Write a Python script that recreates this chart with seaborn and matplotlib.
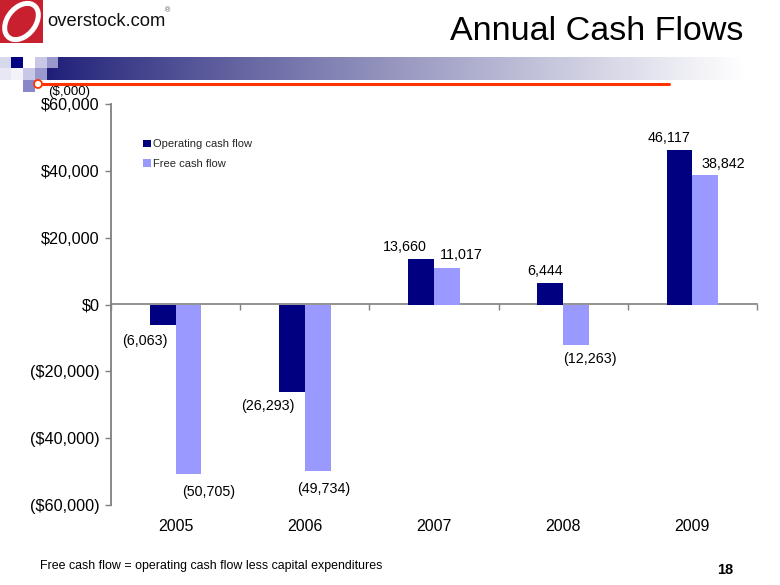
import numpy as np
import pandas as pd
import matplotlib
matplotlib.use("Agg")
import matplotlib.pyplot as plt
import seaborn as sns
from matplotlib.patches import Rectangle, Ellipse
from matplotlib.lines import Line2D

# ---------------- data ----------------
years = ["2005", "2006", "2007", "2008", "2009"]
series = ["Operating cash flow", "Free cash flow"]
operating = [-6063, -26293, 13660, 6444, 46117]
free_cf = [-50705, -49734, 11017, -12263, 38842]
yticks = [-60000, -40000, -20000, 0, 20000, 40000, 60000]
ytick_labels = ["($60,000)", "($40,000)", "($20,000)", "$0", "$20,000", "$40,000", "$60,000"]
title = "Annual Cash Flows"
unit_label = "($,000)"
footnote = "Free cash flow = operating cash flow less capital expenditures"
page_no = "18"
colors = ["#000080", "#9999FF"]

df = pd.DataFrame({
    "year": years * 2,
    "series": [series[0]] * len(years) + [series[1]] * len(years),
    "value": operating + free_cf,
})

W, H = 780, 585
sns.set_theme(style="white")
plt.rcParams["font.family"] = ["Liberation Sans", "DejaVu Sans"]

fig = plt.figure(figsize=(W / 100, H / 100), dpi=100)
fig.patch.set_facecolor("white")


def fx(x):
    return x / W


def fy(y):
    return 1 - y / H


def rect(x0, y0, x1, y1, color, z=1):
    fig.add_artist(Rectangle((fx(x0), fy(y1)), fx(x1) - fx(x0), fy(y0) - fy(y1),
                             transform=fig.transFigure, facecolor=color,
                             edgecolor="none", zorder=z))


# ---------------- header decoration ----------------
band = fig.add_axes([fx(47), fy(80), fx(780) - fx(47), fy(57) - fy(80)])
grad = np.linspace(0, 1, 256)
c0 = np.array([0.12, 0.12, 0.47])
c1 = np.array([1.0, 1.0, 1.0])
t = np.clip(grad * 1.05, 0, 1) ** 0.9
img = (c0[None, :] * (1 - t[:, None]) + c1[None, :] * t[:, None])[None, :, :]
band.imshow(img, aspect="auto", extent=[0, 1, 0, 1])
band.set_axis_off()

# squares
rect(0, 57, 11, 68, "#d8d8ec", 3)
rect(0, 68, 11, 80, "#e8e8f4", 3)
rect(11, 57, 23, 68, "#000080", 3)
rect(11, 68, 23, 80, "#f2f2f8", 3)
rect(23, 57, 35, 68, "#ffffff", 3)
rect(23, 68, 35, 80, "#c8c8e6", 3)
rect(35, 57, 47, 68, "#c8c8e6", 3)
rect(35, 68, 47, 80, "#9999cc", 3)
rect(47, 57, 58, 68, "#9999cc", 3)
rect(23, 80, 35, 92, "#8888c8", 3)

# red rule with circle
fig.add_artist(Line2D([fx(38), fx(669)], [fy(84), fy(84)], transform=fig.transFigure,
                      color="#ff3300", lw=2.2, zorder=4))
fig.add_artist(Ellipse((fx(38), fy(84)), 8 / W, 8 / H, transform=fig.transFigure,
                       facecolor="white", edgecolor="#ff3300", lw=1.3, zorder=5))

# logo
rect(0, 0, 43, 43, "#c8202f", 3)
fig.add_artist(Ellipse((fx(21.5), fy(21.5)), 30 / W, 38 / H, angle=-22,
                       transform=fig.transFigure, facecolor="none",
                       edgecolor="white", lw=3.6, zorder=4))
fig.text(fx(47), fy(21), "overstock.com", fontsize=13.2, color="#111111",
         ha="left", va="center")
fig.text(fx(165), fy(11), "®", fontsize=5, color="#555555", ha="left", va="center")

# title
fig.text(fx(743), fy(31), title, fontsize=24.5, color="black", ha="right", va="center")

# ---------------- chart ----------------
ax = fig.add_axes([fx(111), fy(505), fx(757) - fx(111), fy(104) - fy(505)])
sns.barplot(data=df, x="year", y="value", hue="series", hue_order=series,
            palette=colors, width=0.4, linewidth=0, saturation=1, ax=ax,
            errorbar=None)

ax.set_xlim(-0.5, len(years) - 0.5)
ax.set_ylim(-60000, 60000)
ax.set_yticks(yticks)
ax.set_yticklabels(ytick_labels)
ax.set_xlabel("")
ax.set_ylabel("")
for s in ["top", "right", "bottom"]:
    ax.spines[s].set_visible(False)
ax.spines["left"].set_color("#808080")
ax.spines["left"].set_linewidth(1.3)
ax.tick_params(axis="y", direction="out", length=4, width=1, color="#808080",
               labelsize=11.7, labelcolor="black", pad=4, left=True)
ax.tick_params(axis="x", length=0, labelsize=11.5, labelcolor="black", pad=10)
ax.set_facecolor("white")

# zero line with category boundary ticks
sec = ax.secondary_xaxis(0.5)
sec.set_xticks(np.arange(len(years) + 1) - 0.5)
sec.set_xticklabels([])
sec.tick_params(direction="in", length=4, width=1, color="#808080")
for s in sec.spines.values():
    s.set_color("#808080")
    s.set_linewidth(1.2)

# data labels
op_off = [(-18, 16), (-24, 14), (-16, -12), (-5, -12), (-10, -12)]
fcf_off = [(20, 18), (6, 18), (14, -13), (14, 14), (18, -11)]


def fmt(v):
    return f"({abs(v):,})" if v < 0 else f"{v:,}"


for cont, vals, offs in zip(ax.containers, [operating, free_cf], [op_off, fcf_off]):
    for bar, v, (dx, dy) in zip(cont, vals, offs):
        cx = bar.get_x() + bar.get_width() / 2
        ax.annotate(fmt(v), xy=(cx, v), xytext=(dx, -dy), textcoords="offset pixels",
                    ha="center", va="center", fontsize=10.3, color="black")

# legend
handles, labels = ax.get_legend_handles_labels()
ax.legend(handles, labels, loc="upper left", bbox_to_anchor=(0.05, 0.912),
          frameon=False, fontsize=8, handlelength=0.65, handleheight=0.65,
          handletextpad=0.25, labelspacing=0.85, borderaxespad=0, borderpad=0)

# unit label, footnote, page number
fig.text(fx(69), fy(92), unit_label, fontsize=9.5, color="black", ha="center", va="center")
fig.text(fx(40), fy(566), footnote, fontsize=8.9, color="black", ha="left", va="center")
fig.text(fx(733), fy(570), page_no, fontsize=10.5, color="black", ha="right",
         va="center", fontweight="bold")

fig.savefig("out.png", dpi=100, facecolor="white")
